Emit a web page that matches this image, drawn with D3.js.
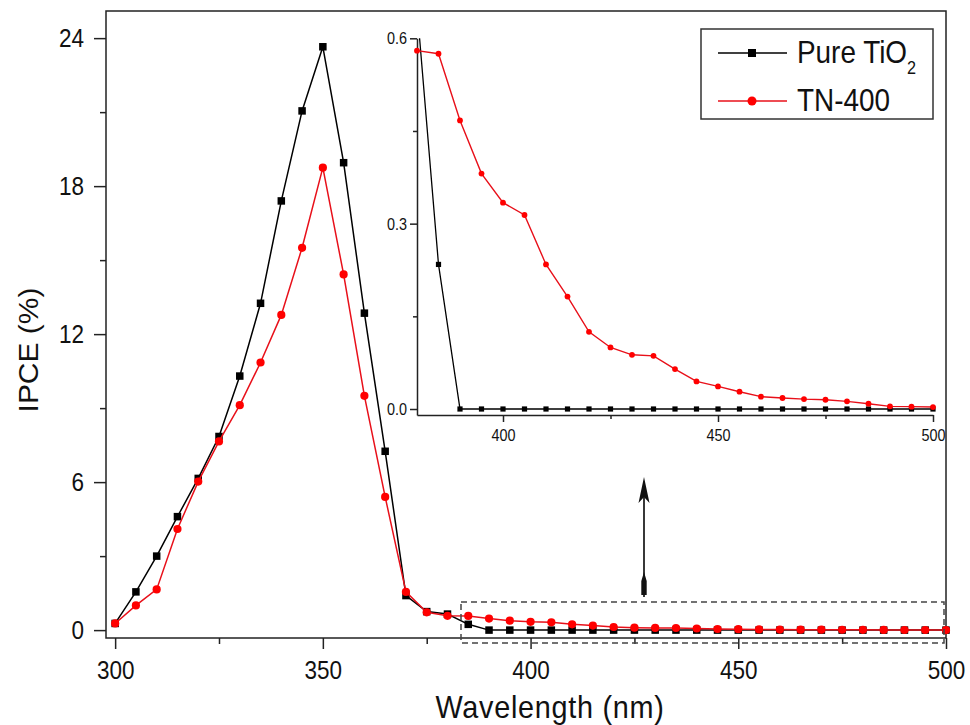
<!DOCTYPE html>
<html><head><meta charset="utf-8">
<script src="https://cdn.jsdelivr.net/npm/d3@7"></script>
<style>
html,body{margin:0;padding:0;background:#fff;}
svg text{font-family:"Liberation Sans",Arial,Helvetica,sans-serif;fill:#111;}
</style></head>
<body><svg id="c" width="970" height="725"></svg>
<script>
// ---- data ----
const wavelengths = d3.range(300, 501, 5);
const pureTiO2 = [0.27,1.55,3.0,4.6,6.15,7.85,10.3,13.25,17.4,21.05,23.65,18.95,12.85,7.25,1.4,0.75,0.65,0.234,
  0,0,0,0,0,0,0,0,0,0,0,0,0,0,0,0,0,0,0,0,0,0,0];
const tn400 = [0.27,1.0,1.65,4.1,6.02,7.65,9.12,10.85,12.78,15.5,18.75,14.42,9.5,5.4,1.55,0.72,0.58,0.575,0.467,0.381,0.334,0.314,0.234,0.182,0.125,0.0996,0.0877,0.086,0.0646,0.0447,0.0366,0.028,0.02,0.0178,0.016,0.015,0.0124,0.0086,0.0043,0.0038,0.0032];
const mainXTicks = [300,350,400,450,500];
const mainXMinor = [325,375,425,475];
const mainYTicks = [0,6,12,18,24];
const mainYMinor = [3,9,15,21];
const insetXTicks = [400,450,500];
const insetXMinor = [425,475];
const insetYTicks = [0,0.3,0.6];
const insetYMinor = [0.15,0.45];
const seriesNames = ["Pure TiO", "TN-400"];

const svg = d3.select("#c");
const SX = "scale(0.9,1)";

// ---- main scales ----
const x = d3.scaleLinear().domain([297.8, 500]).range([106, 946]);
const y = d3.scaleLinear().domain([-0.32, 25.1]).range([638, 11]);

// frame
svg.append("rect").attr("x",106).attr("y",11).attr("width",840).attr("height",627)
  .attr("fill","none").attr("stroke","#222").attr("stroke-width",1.5);

function styleAxis(g, fs){
  g.select(".domain").attr("stroke","#222").attr("stroke-width",1.5);
  g.selectAll(".tick line").attr("stroke","#222").attr("stroke-width",1.5);
  g.selectAll(".tick text").attr("font-size",fs).attr("fill","#111");
}

// main y axis
const gy = svg.append("g").attr("transform","translate(106,0)")
  .call(d3.axisLeft(y).tickValues(mainYTicks).tickSize(12).tickSizeOuter(0).tickFormat(d3.format("d")));
styleAxis(gy,25);
gy.select(".domain").remove();
gy.selectAll(".tick text").attr("x",-24.4).attr("dy","0.35em").attr("transform",SX);
const gym = svg.append("g").attr("transform","translate(106,0)")
  .call(d3.axisLeft(y).tickValues(mainYMinor).tickSize(6).tickSizeOuter(0).tickFormat(""));
styleAxis(gym,25); gym.select(".domain").remove();

// main x axis
const gx = svg.append("g").attr("transform","translate(0,638)")
  .call(d3.axisBottom(x).tickValues(mainXTicks).tickSize(11).tickSizeOuter(0).tickFormat(d3.format("d")));
styleAxis(gx,25);
gx.select(".domain").remove();
gx.selectAll(".tick text").attr("y",41).attr("dy",0).attr("transform",SX);
const gxm = svg.append("g").attr("transform","translate(0,638)")
  .call(d3.axisBottom(x).tickValues(mainXMinor).tickSize(6).tickSizeOuter(0).tickFormat(""));
styleAxis(gxm,25); gxm.select(".domain").remove();

// axis titles
svg.append("text").attr("transform","translate(550,718) "+SX).attr("text-anchor","middle")
  .attr("font-size",32).attr("letter-spacing","0.8px").text("Wavelength (nm)");
svg.append("text").attr("transform","translate(38,350) scale(0.9,1) rotate(-90)").attr("text-anchor","middle")
  .attr("font-size",30).text("IPCE (%)");

// ---- main series ----
const mainData = [pureTiO2, tn400].map(arr => wavelengths.map((w,i)=>({w, v:arr[i]})));
const line = d3.line().x(d=>x(d.w)).y(d=>y(d.v));
svg.append("path").datum(mainData[0]).attr("d",line).attr("fill","none").attr("stroke","#000").attr("stroke-width",1.5);
svg.append("g").selectAll("rect").data(mainData[0]).join("rect")
  .attr("x",d=>x(d.w)-3.75).attr("y",d=>y(d.v)-3.75).attr("width",7.5).attr("height",7.5).attr("fill","#000");
svg.append("path").datum(mainData[1]).attr("d",line).attr("fill","none").attr("stroke","#e8101a").attr("stroke-width",1.5);
svg.append("g").selectAll("circle").data(mainData[1]).join("circle")
  .attr("cx",d=>x(d.w)).attr("cy",d=>y(d.v)).attr("r",4.1).attr("fill","#ff0000");

// dashed zoom box
svg.append("rect").attr("x",461).attr("y",602).attr("width",483).attr("height",41)
  .attr("fill","none").attr("stroke","#444").attr("stroke-width",1.5).attr("stroke-dasharray","6,4");

// arrow
svg.append("line").attr("x1",644).attr("x2",644).attr("y1",597).attr("y2",490)
  .attr("stroke","#222").attr("stroke-width",1.8);
svg.append("path").attr("d","M644,477 L649.5,503 L644,497 L638.5,503 Z").attr("fill","#111");
svg.append("path").attr("d","M644,572 L646.7,581 L646.7,595 L641.3,595 L641.3,581 Z").attr("fill","#111");

// ---- inset ----
const xi = d3.scaleLinear().domain([380, 500]).range([417, 933]);
const yi = d3.scaleLinear().domain([-0.0097, 0.6]).range([415, 38.3]);
svg.append("defs").append("clipPath").attr("id","clipI").append("rect")
  .attr("x",410).attr("y",38.3).attr("width",530).attr("height",385);

const giy = svg.append("g").attr("transform","translate(417,0)")
  .call(d3.axisLeft(yi).tickValues(insetYTicks).tickSize(7).tickSizeOuter(0).tickFormat(d3.format(".1f")));
styleAxis(giy,16);
giy.selectAll(".tick text").attr("x",-11).attr("dy","0.35em").attr("transform",SX);
const giym = svg.append("g").attr("transform","translate(417,0)")
  .call(d3.axisLeft(yi).tickValues(insetYMinor).tickSize(4).tickSizeOuter(0).tickFormat(""));
styleAxis(giym,16); giym.select(".domain").remove();

const gix = svg.append("g").attr("transform","translate(0,415)")
  .call(d3.axisBottom(xi).tickValues(insetXTicks).tickSize(7).tickSizeOuter(0).tickFormat(d3.format("d")));
styleAxis(gix,16);
gix.selectAll(".tick text").attr("y",26).attr("dy",0).attr("transform",SX);
const gixm = svg.append("g").attr("transform","translate(0,415)")
  .call(d3.axisBottom(xi).tickValues(insetXMinor).tickSize(4).tickSizeOuter(0).tickFormat(""));
styleAxis(gixm,16); gixm.select(".domain").remove();

const insetData = mainData.map(s => s.filter(d => d.w >= 380));
const lineI = d3.line().x(d=>xi(d.w)).y(d=>yi(d.v));
const gi = svg.append("g").attr("clip-path","url(#clipI)");
gi.append("path").datum(insetData[0]).attr("d",lineI).attr("fill","none").attr("stroke","#000").attr("stroke-width",1.3);
gi.append("g").selectAll("rect").data(insetData[0]).join("rect")
  .attr("x",d=>xi(d.w)-2.6).attr("y",d=>yi(d.v)-2.6).attr("width",5.2).attr("height",5.2).attr("fill","#000");
gi.append("path").datum(insetData[1]).attr("d",lineI).attr("fill","none").attr("stroke","#e8101a").attr("stroke-width",1.4);
gi.append("g").selectAll("circle").data(insetData[1]).join("circle")
  .attr("cx",d=>xi(d.w)).attr("cy",d=>yi(d.v)).attr("r",2.9).attr("fill","#ff0000");

// ---- legend ----
const lg = svg.append("g");
lg.append("rect").attr("x",701).attr("y",29).attr("width",232).attr("height",90)
  .attr("fill","#fff").attr("stroke","#333").attr("stroke-width",1.5);
lg.append("line").attr("x1",718).attr("x2",787).attr("y1",53).attr("y2",53).attr("stroke","#000").attr("stroke-width",1.5);
lg.append("rect").attr("x",748).attr("y",49).attr("width",8).attr("height",8).attr("fill","#000");
lg.append("line").attr("x1",718).attr("x2",787).attr("y1",101).attr("y2",101).attr("stroke","#e8101a").attr("stroke-width",1.5);
lg.append("circle").attr("cx",752).attr("cy",101).attr("r",4.5).attr("fill","#ff0000");
const t1 = lg.append("text").attr("transform","translate(797,63) "+SX).attr("font-size",31);
t1.append("tspan").text(seriesNames[0]);
t1.append("tspan").attr("font-size",18).attr("dy",11).text("2");
lg.append("text").attr("transform","translate(797,111) "+SX).attr("font-size",31).text(seriesNames[1]);
</script></body></html>
